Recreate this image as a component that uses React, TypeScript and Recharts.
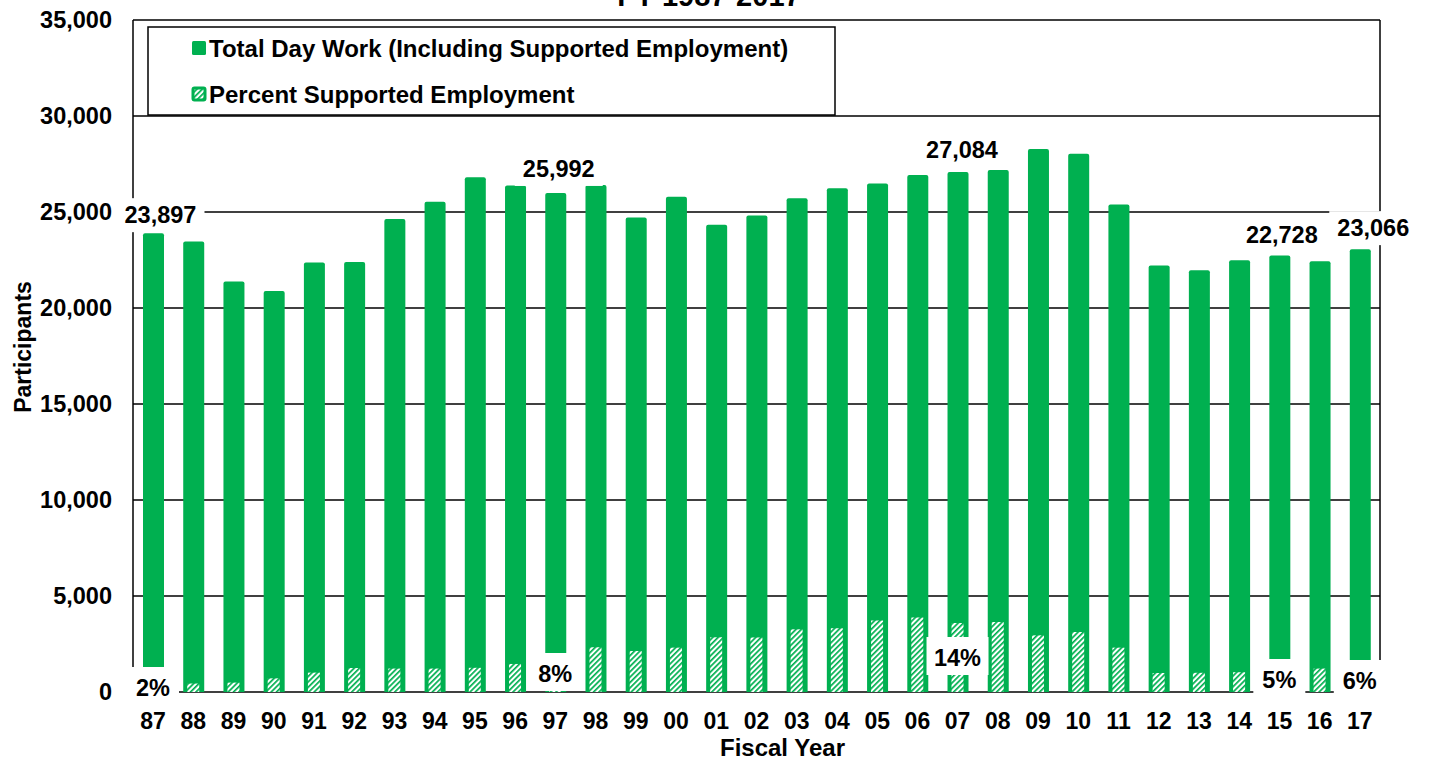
import React from 'react';
import { BarChart, Bar, XAxis, YAxis, CartesianGrid, LabelList } from 'recharts';

// ---------- data ----------
const years = ['87','88','89','90','91','92','93','94','95','96','97','98','99','00','01','02','03','04','05','06','07','08','09','10','11','12','13','14','15','16','17'];
const totalDayWork = [23897,23460,21380,20880,22370,22400,24640,25540,26810,26380,25992,26400,24710,25800,24330,24820,25720,26240,26480,26930,27084,27190,28280,28040,25390,22220,21970,22490,22728,22440,23066];
const supportedEmployment = [480,440,490,710,1010,1250,1220,1220,1260,1460,2000,2330,2135,2310,2850,2840,3265,3320,3730,3875,3590,3650,2950,3125,2310,990,1000,1030,1140,1220,1380];
const labeledYears = ['87','97','07','15','17'];
const percentLabels = ['2%','8%','14%','5%','6%'];
const yTicks = [0,5000,10000,15000,20000,25000,30000,35000];
const seriesNames = ['Total Day Work (Including Supported Employment)', 'Percent Supported Employment'];
const titleText = 'FY 1987-2017';

const data = years.map((y, i) => ({ year: y, total: totalDayWork[i], supported: supportedEmployment[i] }));

// ---------- styles / layout ----------
const GREEN = '#00B050';
const FONT = '"Liberation Sans", Arial, sans-serif';
const topLabelOffset: Record<string, { dx: number; dy: number }> = {
  '87': { dx: 7, dy: -17 },
  '97': { dx: 3, dy: -23 },
  '07': { dx: 4, dy: -21 },
  '15': { dx: 2, dy: -20 },
  '17': { dx: 13, dy: -20 },
};
const pctLabelOffset: Record<string, number> = { '87': -4, '97': -18, '07': -34, '15': -12, '17': -11 };

const fmt = (v: number) => v.toLocaleString('en-US');

const getBox = (p: any) => {
  const vb = p.viewBox || {};
  return {
    x: Number(p.x ?? vb.x),
    y: Number(p.y ?? vb.y),
    width: Number(p.width ?? vb.width),
    height: Number(p.height ?? vb.height),
  };
};

const TopLabel = (props: any) => {
  const idx = props.index;
  const yr = years[idx];
  const k = labeledYears.indexOf(yr);
  if (k < 0) return null;
  const { x, y, width } = getBox(props);
  const off = topLabelOffset[yr];
  const cx = x + width / 2 + off.dx;
  const cy = y + off.dy - 1;
  const bw = 88, bh = 34;
  return (
    <g>
      <rect x={cx - bw / 2} y={cy - bh / 2} width={bw} height={bh} fill="#fff" />
      <text x={cx} y={cy} textAnchor="middle" dominantBaseline="central" fontFamily={FONT} fontWeight="bold" fontSize={23.5} fill="#000">
        {fmt(totalDayWork[idx])}
      </text>
    </g>
  );
};

const PctLabel = (props: any) => {
  const idx = props.index;
  const yr = years[idx];
  const k = labeledYears.indexOf(yr);
  if (k < 0) return null;
  const { x, y, width, height } = getBox(props);
  const base = y + height;
  const cx = x + width / 2;
  const cy = base + pctLabelOffset[yr];
  const txt = percentLabels[k];
  const bw = txt.length > 2 ? 62 : 52, bh = 38;
  return (
    <g>
      <rect x={cx - bw / 2} y={cy - bh / 2 - 2} width={bw} height={bh} fill="#fff" />
      <text x={cx} y={cy} textAnchor="middle" dominantBaseline="central" fontFamily={FONT} fontWeight="bold" fontSize={23.5} fill="#000">
        {txt}
      </text>
    </g>
  );
};

const XTitle = (props: any) => {
  const vb = props.viewBox || {};
  return (
    <text x={vb.x + vb.width / 2 + 26} y={vb.y + 55} textAnchor="middle" dominantBaseline="central" fontFamily={FONT} fontWeight="bold" fontSize={24} fill="#000">
      Fiscal Year
    </text>
  );
};

const YTitle = (props: any) => {
  const vb = props.viewBox || {};
  const cx = 23;
  const cy = vb.y + vb.height / 2 - 9;
  return (
    <text x={cx} y={cy} transform={`rotate(-90 ${cx} ${cy})`} textAnchor="middle" dominantBaseline="central" fontFamily={FONT} fontWeight="bold" fontSize={23} fill="#000">
      Participants
    </text>
  );
};

export default function App() {
  return (
    <div style={{ position: 'absolute', left: 0, top: 0, width: 1431, height: 761, background: '#fff' }}>
      <BarChart
        width={1431}
        height={761}
        data={data}
        margin={{ top: 20, right: 51, bottom: 0, left: 23 }}
      >
        <defs>
          <pattern id="hatch" patternUnits="userSpaceOnUse" width="3.8" height="3.8" patternTransform="rotate(45)">
            <rect x="0" y="0" width="3.8" height="3.8" fill="#fff" />
            <rect x="0" y="0" width="1.7" height="3.8" fill={GREEN} />
          </pattern>
        </defs>
        <CartesianGrid
          stroke="#000"
          strokeWidth={1.5}
          horizontal
          vertical
          verticalCoordinatesGenerator={({ offset }: any) => [offset.left, offset.left + offset.width]}
        />
        <XAxis
          xAxisId="main"
          dataKey="year"
          interval={0}
          axisLine={false}
          tickLine={false}
          tickMargin={15}
          height={69}
          tick={{ fontFamily: FONT, fontWeight: 'bold', fontSize: 23, fill: '#000' }}
          label={{ content: XTitle }}
        />
        <XAxis xAxisId="overlay" dataKey="year" hide />
        <YAxis
          domain={[0, 35000]}
          ticks={yTicks}
          tickFormatter={fmt}
          axisLine={false}
          tickLine={false}
          tickMargin={15}
          width={110}
          tick={{ fontFamily: FONT, fontWeight: 'bold', fontSize: 23.5, fill: '#000' }}
          label={{ content: YTitle }}
        />
        <Bar xAxisId="main" dataKey="total" name={seriesNames[0]} fill={GREEN} barSize={21} radius={[2, 2, 0, 0]} isAnimationActive={false}>
          <LabelList dataKey="total" content={TopLabel} />
        </Bar>
        <Bar xAxisId="overlay" dataKey="supported" name={seriesNames[1]} fill="url(#hatch)" barSize={12} isAnimationActive={false}>
          <LabelList dataKey="supported" content={PctLabel} />
        </Bar>
        <g>
          <text x={709} y={6} textAnchor="middle" fontFamily={FONT} fontWeight="bold" fontSize={29} fill="#000">{titleText}</text>
        </g>
        <g>
          <rect x={148} y={27} width={687} height={88} fill="#fff" stroke="#000" strokeWidth={1.5} />
          <rect x={192} y={41} width={14} height={14} rx={1.5} fill={GREEN} />
          <text x={209} y={48} dominantBaseline="central" fontFamily={FONT} fontWeight="bold" fontSize={24} fill="#000">{seriesNames[0]}</text>
          <rect x={193} y={88} width={12} height={12} rx={1.5} fill="url(#hatch)" stroke={GREEN} strokeWidth={3} />
          <text x={209} y={94} dominantBaseline="central" fontFamily={FONT} fontWeight="bold" fontSize={24} fill="#000">{seriesNames[1]}</text>
        </g>
      </BarChart>
    </div>
  );
}
